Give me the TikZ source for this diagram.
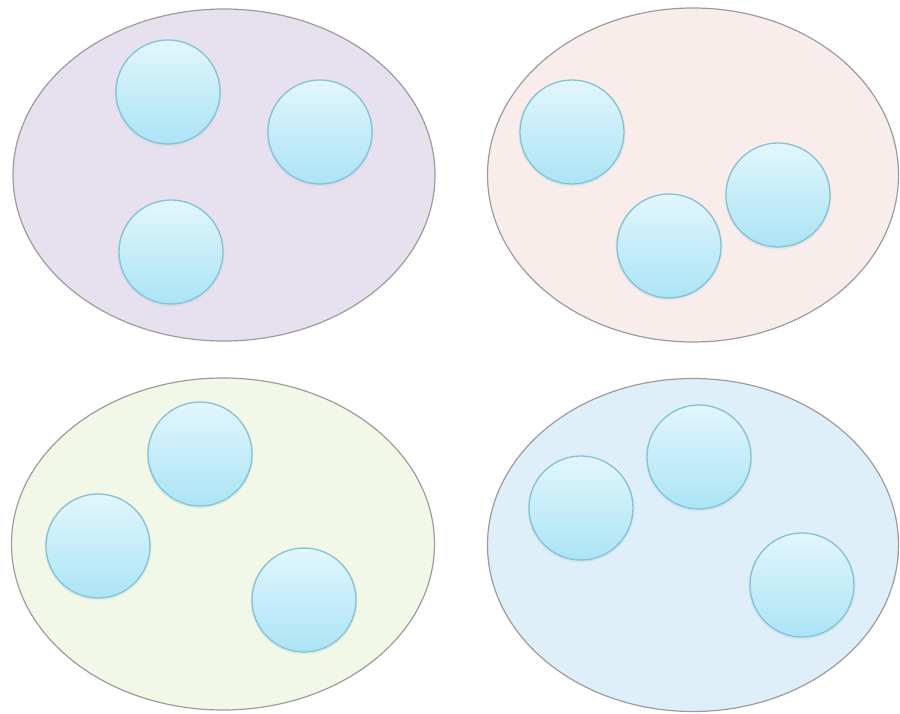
\documentclass[tikz,border=0pt]{standalone}
\usetikzlibrary{shapes.geometric}
\definecolor{edgegray}{HTML}{9C9C9C}
\definecolor{lav}{HTML}{E7E1EF}
\definecolor{rose}{HTML}{F9EDEC}
\definecolor{lime}{HTML}{F2F8E7}
\definecolor{sky}{HTML}{DFEFFA}
\definecolor{balltop}{HTML}{E2F6FC}
\definecolor{ballbot}{HTML}{ABE4F5}
\definecolor{balledge}{HTML}{86C2D4}
\tikzset{
  group/.style={ellipse, draw=edgegray, line width=1.2pt, inner sep=0pt},
  ball/.style={circle, minimum size=104pt, inner sep=0pt, draw=balledge, line width=1.3pt,
    top color=balltop, bottom color=ballbot},
  halo/.style={circle, minimum size=107pt, inner sep=0pt, fill=balledge, opacity=0.18}
}
\begin{document}
\begin{tikzpicture}[x=1pt,y=-1pt]
\useasboundingbox (0,0) rectangle (900,714);
\fill[white] (0,0) rectangle (900,714);
% groups
\node[group, fill=lav,  minimum width=422pt, minimum height=332pt] (g1) at (224,175) {};
\node[group, fill=rose, minimum width=411pt, minimum height=334pt] (g2) at (693,175) {};
\node[group, fill=lime, minimum width=423pt, minimum height=332pt] (g3) at (223,544) {};
\node[group, fill=sky,  minimum width=411pt, minimum height=333pt] (g4) at (693,545) {};
% shadows
\foreach \p in {(168,93),(320,133),(171,253),(572,133),(669,247),(778,196),(200,455),(98,547),(304,601),(581,509),(699,458),(802,586)}
  \node[halo] at \p {};
% balls
\node[ball] (a1) at (168,92) {};
\node[ball] (a2) at (320,132) {};
\node[ball] (a3) at (171,252) {};
\node[ball] (b1) at (572,132) {};
\node[ball] (b2) at (669,246) {};
\node[ball] (b3) at (778,195) {};
\node[ball] (c1) at (200,454) {};
\node[ball] (c2) at (98,546) {};
\node[ball] (c3) at (304,600) {};
\node[ball] (d1) at (581,508) {};
\node[ball] (d2) at (699,457) {};
\node[ball] (d3) at (802,585) {};
\end{tikzpicture}
\end{document}
